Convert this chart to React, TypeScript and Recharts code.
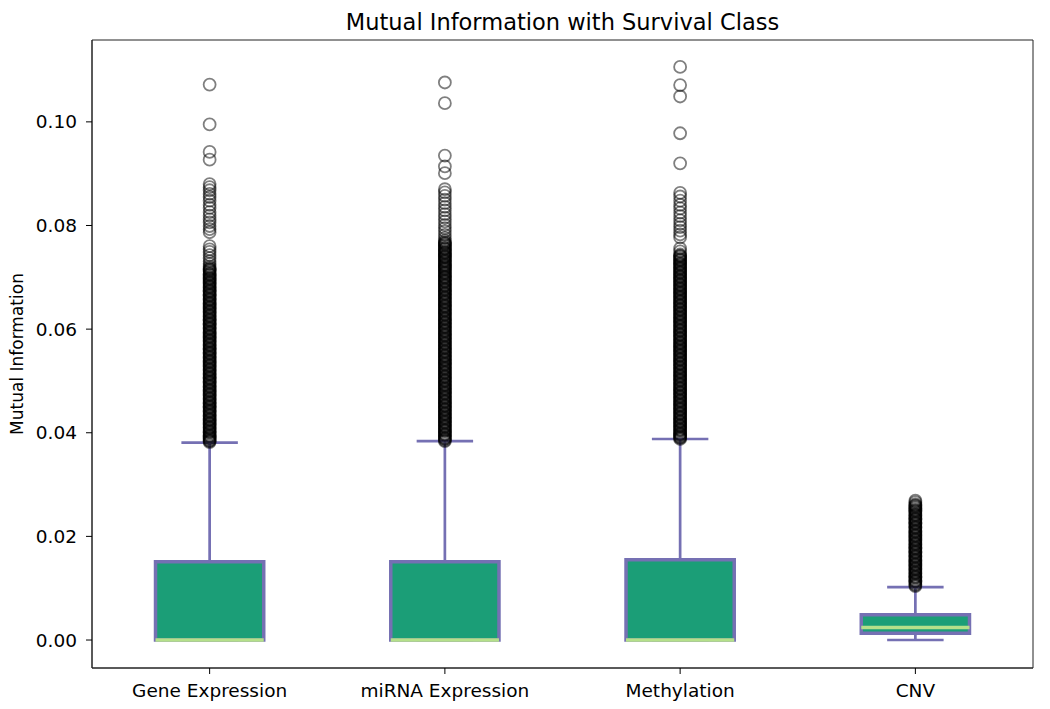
import React from 'react';
import {
  ComposedChart, XAxis, YAxis, Scatter, ReferenceArea, ReferenceLine,
} from 'recharts';

const categories = ['Gene Expression', 'miRNA Expression', 'Methylation', 'CNV'];
const q1 = [0, 0, 0, 0.0013];
const medians = [0, 0, 0, 0.0024];
const q3 = [0.0151, 0.0151, 0.0155, 0.0049];
const whiskerLow = [0, 0, 0, 0];
const whiskerHigh = [0.0381, 0.0384, 0.0388, 0.0102];
const yTicks = [0, 0.02, 0.04, 0.06, 0.08, 0.1];

// outliers above the upper whisker, read top-down; the lower runs are packed so tight they print solid
const geneOutliers = [
  0.1072, 0.0995, 0.0942, 0.0927, 0.0880, 0.0874, 0.0868, 0.0861, 0.0855, 0.0848, 0.0840,
  0.0834, 0.0826, 0.0819, 0.0812, 0.0806, 0.0799, 0.0793, 0.0787, 0.0760, 0.0754, 0.0749,
  0.0743, 0.0737, 0.0731, 0.0726, 0.0721,
  0.0718, 0.0716, 0.0715, 0.0713, 0.0711, 0.0708, 0.0706, 0.0705, 0.0703, 0.0700,
  0.0698, 0.0697, 0.0695, 0.0692, 0.0690, 0.0689, 0.0687, 0.0684, 0.0682, 0.0681,
  0.0679, 0.0676, 0.0674, 0.0673, 0.0671, 0.0668, 0.0666, 0.0665, 0.0663, 0.0660,
  0.0658, 0.0657, 0.0655, 0.0652, 0.0650, 0.0649, 0.0647, 0.0644, 0.0642, 0.0641,
  0.0639, 0.0636, 0.0634, 0.0633, 0.0631, 0.0628, 0.0626, 0.0625, 0.0623, 0.0620,
  0.0618, 0.0617, 0.0615, 0.0612, 0.0610, 0.0609, 0.0607, 0.0604, 0.0602, 0.0601,
  0.0599, 0.0596, 0.0594, 0.0593, 0.0591, 0.0588, 0.0586, 0.0585, 0.0583, 0.0580,
  0.0578, 0.0577, 0.0575, 0.0572, 0.0570, 0.0569, 0.0567, 0.0564, 0.0562, 0.0561,
  0.0559, 0.0556, 0.0554, 0.0553, 0.0551, 0.0548, 0.0546, 0.0545, 0.0543, 0.0540,
  0.0538, 0.0537, 0.0535, 0.0532, 0.0530, 0.0529, 0.0527, 0.0524, 0.0522, 0.0521,
  0.0519, 0.0516, 0.0514, 0.0513, 0.0511, 0.0508, 0.0506, 0.0505, 0.0503, 0.0500,
  0.0498, 0.0497, 0.0495, 0.0492, 0.0490, 0.0489, 0.0487, 0.0484, 0.0482, 0.0481,
  0.0479, 0.0476, 0.0474, 0.0473, 0.0471, 0.0468, 0.0466, 0.0465, 0.0463, 0.0460,
  0.0458, 0.0457, 0.0455, 0.0452, 0.0450, 0.0449, 0.0447, 0.0444, 0.0442, 0.0441,
  0.0439, 0.0436, 0.0434, 0.0433, 0.0431, 0.0428, 0.0426, 0.0425, 0.0423, 0.0420,
  0.0418, 0.0417, 0.0415, 0.0412, 0.0410, 0.0409, 0.0407, 0.0404, 0.0402, 0.0401,
  0.0399, 0.0396, 0.0394, 0.0393, 0.0391, 0.0389, 0.0387, 0.0385, 0.0384, 0.0382,
];

const mirnaOutliers = [
  0.1076, 0.1036, 0.0935, 0.0914, 0.0901, 0.0870, 0.0864, 0.0857, 0.0850, 0.0843, 0.0836,
  0.0829, 0.0822, 0.0815, 0.0808, 0.0801, 0.0795, 0.0789, 0.0782, 0.0776, 0.0771,
  0.0768, 0.0766, 0.0765, 0.0763, 0.0761, 0.0758, 0.0756, 0.0755, 0.0753, 0.0750,
  0.0748, 0.0747, 0.0745, 0.0742, 0.0740, 0.0739, 0.0737, 0.0734, 0.0732, 0.0731,
  0.0729, 0.0726, 0.0724, 0.0723, 0.0721,
  0.0719, 0.0717, 0.0716, 0.0714, 0.0711, 0.0709, 0.0708, 0.0706, 0.0703, 0.0701,
  0.0700, 0.0698, 0.0695, 0.0693, 0.0692, 0.0690, 0.0687, 0.0685, 0.0684, 0.0682,
  0.0679, 0.0677, 0.0676, 0.0674, 0.0671, 0.0669, 0.0668, 0.0666, 0.0663, 0.0661,
  0.0660, 0.0658, 0.0655, 0.0653, 0.0652, 0.0650, 0.0647, 0.0645, 0.0644, 0.0642,
  0.0639, 0.0637, 0.0636, 0.0634, 0.0631, 0.0629, 0.0628, 0.0626, 0.0623, 0.0621,
  0.0620, 0.0618, 0.0615, 0.0613, 0.0612, 0.0610, 0.0607, 0.0605, 0.0604, 0.0602,
  0.0599, 0.0597, 0.0596, 0.0594, 0.0591, 0.0589, 0.0588, 0.0586, 0.0583, 0.0581,
  0.0580, 0.0578, 0.0575, 0.0573, 0.0572, 0.0570, 0.0567, 0.0565, 0.0564, 0.0562,
  0.0559, 0.0557, 0.0556, 0.0554, 0.0551, 0.0549, 0.0548, 0.0546, 0.0543, 0.0541,
  0.0540, 0.0538, 0.0535, 0.0533, 0.0532, 0.0530, 0.0527, 0.0525, 0.0524, 0.0522,
  0.0519, 0.0517, 0.0516, 0.0514, 0.0511, 0.0509, 0.0508, 0.0506, 0.0503, 0.0501,
  0.0500, 0.0498, 0.0495, 0.0493, 0.0492, 0.0490, 0.0487, 0.0485, 0.0484, 0.0482,
  0.0479, 0.0477, 0.0476, 0.0474, 0.0471, 0.0469, 0.0468, 0.0466, 0.0463, 0.0461,
  0.0460, 0.0458, 0.0455, 0.0453, 0.0452, 0.0450, 0.0447, 0.0445, 0.0444, 0.0442,
  0.0439, 0.0437, 0.0436, 0.0434, 0.0431, 0.0429, 0.0428, 0.0426, 0.0423, 0.0421,
  0.0420, 0.0418, 0.0415, 0.0413, 0.0412, 0.0410, 0.0407, 0.0405, 0.0404, 0.0402,
  0.0399, 0.0397, 0.0396, 0.0394, 0.0391, 0.0389, 0.0388, 0.0386, 0.0384,
];

const methOutliers = [
  0.1106, 0.1071, 0.1049, 0.0978, 0.0920, 0.0863, 0.0856, 0.0848, 0.0840, 0.0833, 0.0825,
  0.0818, 0.0810, 0.0803, 0.0797, 0.0790, 0.0783, 0.0777, 0.0756, 0.0750,
  0.0744, 0.0742, 0.0741, 0.0739, 0.0736, 0.0734, 0.0733, 0.0731, 0.0728, 0.0726,
  0.0725, 0.0723, 0.0720, 0.0718, 0.0717, 0.0715, 0.0712, 0.0710, 0.0709, 0.0707,
  0.0704, 0.0702, 0.0701, 0.0699, 0.0696, 0.0694, 0.0693, 0.0691, 0.0688, 0.0686,
  0.0685, 0.0683, 0.0680, 0.0678, 0.0677, 0.0675, 0.0672, 0.0670, 0.0669, 0.0667,
  0.0664, 0.0662, 0.0661, 0.0659, 0.0656, 0.0654, 0.0653, 0.0651, 0.0648, 0.0646,
  0.0645, 0.0643, 0.0640, 0.0638, 0.0637, 0.0635, 0.0632, 0.0630, 0.0629, 0.0627,
  0.0624, 0.0622, 0.0621, 0.0619, 0.0616, 0.0614, 0.0613, 0.0611, 0.0608, 0.0606,
  0.0605, 0.0603, 0.0600, 0.0598, 0.0597, 0.0595, 0.0592, 0.0590, 0.0589, 0.0587,
  0.0584, 0.0582, 0.0581, 0.0579, 0.0576, 0.0574, 0.0573, 0.0571, 0.0568, 0.0566,
  0.0565, 0.0563, 0.0560, 0.0558, 0.0557, 0.0555, 0.0552, 0.0550, 0.0549, 0.0547,
  0.0544, 0.0542, 0.0541, 0.0539, 0.0536, 0.0534, 0.0533, 0.0531, 0.0528, 0.0526,
  0.0525, 0.0523, 0.0520, 0.0518, 0.0517, 0.0515, 0.0512, 0.0510, 0.0509, 0.0507,
  0.0504, 0.0502, 0.0501, 0.0499, 0.0496, 0.0494, 0.0493, 0.0491, 0.0488, 0.0486,
  0.0485, 0.0483, 0.0480, 0.0478, 0.0477, 0.0475, 0.0472, 0.0470, 0.0469, 0.0467,
  0.0464, 0.0462, 0.0461, 0.0459, 0.0456, 0.0454, 0.0453, 0.0451, 0.0448, 0.0446,
  0.0445, 0.0443, 0.0440, 0.0438, 0.0437, 0.0435, 0.0432, 0.0430, 0.0429, 0.0427,
  0.0424, 0.0422, 0.0421, 0.0419, 0.0416, 0.0414, 0.0413, 0.0411, 0.0408, 0.0406,
  0.0405, 0.0403, 0.0400, 0.0398, 0.0397, 0.0395, 0.0393, 0.0391, 0.0390, 0.0388,
];

const cnvOutliers = [
  0.0269, 0.0266,
  0.0262, 0.0260, 0.0259, 0.0257, 0.0255, 0.0252, 0.0250, 0.0249, 0.0247, 0.0244,
  0.0242, 0.0241, 0.0239, 0.0236, 0.0234, 0.0233, 0.0231, 0.0228, 0.0226, 0.0225,
  0.0223, 0.0220, 0.0218, 0.0217, 0.0215, 0.0212, 0.0210, 0.0209, 0.0207, 0.0204,
  0.0202, 0.0201, 0.0199, 0.0196, 0.0194, 0.0193, 0.0191, 0.0188, 0.0186, 0.0185,
  0.0183, 0.0180, 0.0178, 0.0177, 0.0175, 0.0172, 0.0170, 0.0169, 0.0167, 0.0164,
  0.0162, 0.0161, 0.0159, 0.0156, 0.0154, 0.0153, 0.0151, 0.0148, 0.0146, 0.0145,
  0.0143, 0.0140, 0.0138, 0.0137, 0.0135, 0.0132, 0.0130, 0.0129, 0.0127, 0.0124,
  0.0122, 0.0121, 0.0119, 0.0116, 0.0114, 0.0113, 0.0111, 0.0108, 0.0106, 0.0104,
];

const outlierSets = [geneOutliers, mirnaOutliers, methOutliers, cnvOutliers];

const BOX_FILL = '#1b9e77';
const EDGE = '#7570b3';
const MEDIAN = '#b5e08a';
const FONT = 'DejaVu Sans, Verdana, sans-serif';
const BOX_HALF = 0.23;
const CAP_HALF = 0.12;
const Y_DOMAIN: [number, number] = [-0.0054, 0.1158];

const points = outlierSets.flatMap((vals, i) => vals.map(v => ({ x: i + 1, y: v })));

const FlierDot = (props: any) => {
  const { cx, cy } = props;
  if (cx == null || cy == null) return null;
  return <circle cx={cx} cy={cy} r={6} fill="none" stroke="#000" strokeOpacity={0.5} strokeWidth={1.8} />;
};

const YLabel = (props: any) => {
  const vb = props.viewBox || {};
  const cy = (vb.y ?? 40) + (vb.height ?? 628) / 2;
  return (
    <text x={17} y={cy} transform={`rotate(-90, 17, ${cy})`} textAnchor="middle" dominantBaseline="central"
      fontSize={17} fontFamily={FONT} fill="#000">
      Mutual Information
    </text>
  );
};

export default function App() {
  const tickStyle = { fill: '#000', fontSize: 18.5, fontFamily: FONT };
  return (
    <div style={{ position: 'absolute', left: 0, top: 0, width: 1050, height: 709, background: '#fff' }}>
      <div style={{
        position: 'absolute', left: 92, top: 8, width: 941, textAlign: 'center',
        fontFamily: FONT, fontSize: 22.5, lineHeight: '28px', color: '#000',
      }}>
        Mutual Information with Survival Class
      </div>
      <ComposedChart width={1050} height={709} margin={{ top: 40, right: 17, bottom: 0, left: 0 }}>
        <XAxis
          type="number" dataKey="x" domain={[0.5, 4.5]} ticks={[1, 2, 3, 4]} allowDataOverflow
          tickFormatter={(v: number) => categories[v - 1]} height={41}
          tick={tickStyle} tickSize={6} tickMargin={10}
          axisLine={{ stroke: '#222' }} tickLine={{ stroke: '#000' }}
        />
        <YAxis
          type="number" dataKey="y" domain={Y_DOMAIN} ticks={yTicks} allowDataOverflow
          tickFormatter={(v: number) => v.toFixed(2)} width={92}
          tick={tickStyle} tickSize={6} tickMargin={9}
          axisLine={{ stroke: '#222' }} tickLine={{ stroke: '#000' }}
          label={<YLabel />}
        />
        <ReferenceArea x1={0.5} x2={4.5} y1={Y_DOMAIN[0]} y2={Y_DOMAIN[1]} fill="none" stroke="#222" strokeWidth={1} />
        {categories.map((c, i) => (
          <ReferenceArea key={`box-${c}`} x1={i + 1 - BOX_HALF} x2={i + 1 + BOX_HALF} y1={q1[i]} y2={q3[i]}
            fill={BOX_FILL} fillOpacity={1} stroke={EDGE} strokeWidth={3.5} />
        ))}
        {categories.map((c, i) => (
          <ReferenceLine key={`wh-${c}`} segment={[{ x: i + 1, y: q3[i] }, { x: i + 1, y: whiskerHigh[i] }]}
            stroke={EDGE} strokeWidth={2.7} />
        ))}
        {categories.map((c, i) => (
          <ReferenceLine key={`wl-${c}`} segment={[{ x: i + 1, y: whiskerLow[i] }, { x: i + 1, y: q1[i] }]}
            stroke={EDGE} strokeWidth={2.7} />
        ))}
        {categories.map((c, i) => (
          <ReferenceLine key={`ch-${c}`} segment={[{ x: i + 1 - CAP_HALF, y: whiskerHigh[i] }, { x: i + 1 + CAP_HALF, y: whiskerHigh[i] }]}
            stroke={EDGE} strokeWidth={2.7} />
        ))}
        {categories.map((c, i) => (
          <ReferenceLine key={`cl-${c}`} segment={[{ x: i + 1 - CAP_HALF, y: whiskerLow[i] }, { x: i + 1 + CAP_HALF, y: whiskerLow[i] }]}
            stroke={EDGE} strokeWidth={2.7} />
        ))}
        {categories.map((c, i) => (
          <ReferenceLine key={`md-${c}`} segment={[{ x: i + 1 - BOX_HALF, y: medians[i] }, { x: i + 1 + BOX_HALF, y: medians[i] }]}
            stroke={MEDIAN} strokeWidth={3.5} />
        ))}
        <Scatter data={points} dataKey="y" shape={<FlierDot />} isAnimationActive={false} />
      </ComposedChart>
    </div>
  );
}
